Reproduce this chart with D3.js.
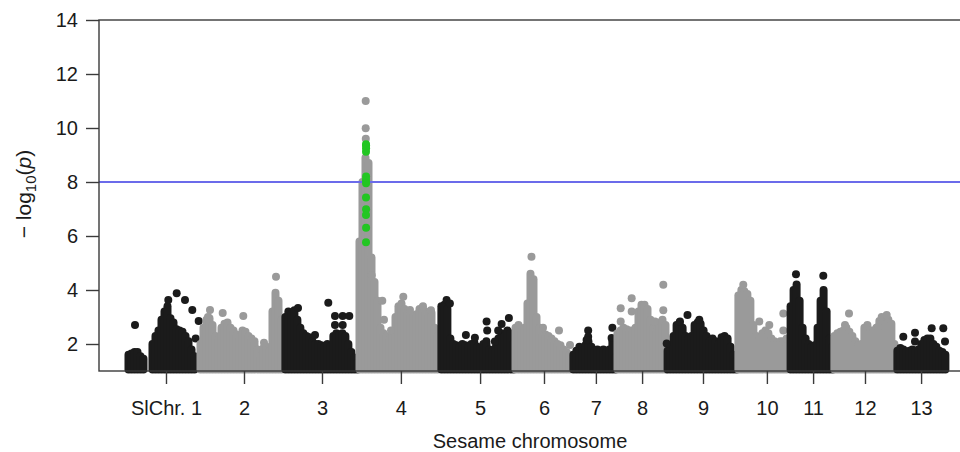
<!DOCTYPE html>
<html>
<head>
<meta charset="utf-8">
<script src="https://cdn.jsdelivr.net/npm/d3@7"></script>
<style>
  body { margin: 0; background: #fff; }
  text { font-family: "Liberation Sans", Arial, sans-serif; fill: #1a1a1a; }
</style>
</head>
<body>
<div id="chart"></div>
<script>
// chromosome names, lengths (Mb) and tick positions (Mb, genome-wide)
var chrNames = ["SlChr. 1", "2", "3", "4", "5", "6", "7", "8", "9", "10", "11", "12", "13"];
var chrLen = [24, 28.3, 24.7, 27.3, 24.7, 19.3, 14.7, 16.7, 23.6, 17.4, 14.6, 21, 17.4];
var tickPos = [13, 39, 65, 91.3, 117.7, 139, 156.3, 171.7, 192, 213.3, 228.7, 246, 264.7];

// upper edge of the dense -log10(p) cloud, one value per 1 Mb bin (0 = no SNPs)
var env1 = [1.6, 1.65, 1.7, 1.7, 1.55, 1.45, 0, 0, 2.0, 2.3, 2.5, 2.9, 3.2, 3.4, 2.95, 2.8, 2.55, 2.5, 2.45, 2.3, 2.1, 1.8, 1.55, 0];
var env2 = [2.0, 2.6, 2.9, 2.95, 2.7, 2.3, 2.2, 2.6, 2.75, 2.8, 2.6, 2.5, 2.35, 2.25, 2.5, 2.45, 2.3, 2.2, 2.1, 1.8, 1.55, 1.85, 1.9, 1.75, 3.2, 3.9, 3.6, 2.9];
var env3 = [3.0, 3.2, 3.1, 3.25, 2.9, 2.6, 2.4, 2.3, 2.25, 2.1, 2.0, 2.0, 1.95, 1.9, 2.0, 1.9, 2.3, 2.4, 2.35, 2.4, 2.3, 2.0, 1.7, 1.5, 1.3];
var env4 = [5.8, 8.0, 8.9, 8.7, 5.2, 4.3, 3.6, 2.6, 2.4, 2.3, 2.2, 2.3, 3.0, 3.4, 3.5, 3.3, 3.2, 3.1, 3.05, 3.1, 3.3, 3.35, 3.2, 3.1, 3.15, 2.6, 2.3];
var env5 = [3.4, 3.45, 3.3, 2.2, 2.0, 1.95, 1.9, 2.0, 1.95, 1.9, 2.0, 2.05, 1.9, 1.85, 2.0, 2.1, 1.8, 1.75, 1.85, 2.2, 2.4, 2.3, 2.5, 2.4, 2.0];
var env6 = [2.6, 2.7, 2.5, 2.6, 3.5, 4.6, 4.4, 3.0, 2.6, 2.4, 2.35, 2.3, 2.2, 2.1, 2.0, 1.95, 1.8, 1.7, 1.6];
var env7 = [1.6, 1.75, 1.9, 1.85, 1.95, 2.1, 1.9, 1.75, 1.8, 1.75, 1.8, 1.7, 1.8, 2.1, 1.5];
var env8 = [2.4, 2.5, 2.6, 2.55, 2.5, 2.5, 2.6, 3.2, 3.45, 3.45, 3.3, 2.9, 2.6, 2.5, 2.8, 2.9, 2.7];
var env9 = [1.75, 1.8, 2.3, 2.7, 2.8, 2.6, 2.3, 2.2, 2.3, 2.7, 2.8, 2.75, 2.5, 2.3, 2.1, 2.2, 2.1, 2.0, 2.25, 2.3, 2.2, 1.9, 1.6, 1.4];
var env10 = [3.8, 4.0, 3.95, 3.85, 3.6, 2.7, 2.3, 2.2, 2.4, 2.5, 2.4, 2.2, 2.1, 2.0, 2.1, 2.1, 1.9];
var env11 = [3.4, 4.0, 4.2, 3.6, 2.6, 2.2, 2.0, 1.9, 1.95, 2.6, 3.6, 4.0, 3.2, 2.2, 1.9];
var env12 = [2.3, 2.4, 2.45, 2.5, 2.6, 2.45, 2.3, 2.1, 1.95, 2.0, 2.6, 2.7, 2.5, 2.5, 2.6, 2.85, 2.9, 2.95, 2.9, 2.75, 2.0];
var env13 = [1.75, 1.85, 1.8, 1.7, 1.75, 1.8, 1.75, 1.8, 2.0, 2.15, 2.2, 2.2, 2.0, 1.9, 1.75, 1.7, 1.6];

// single SNPs standing above the cloud: [position in chromosome (Mb), -log10(p)]
var pts1 = [[2.67, 2.7], [13.77, 3.63], [16.57, 3.88], [19.33, 3.63], [21.77, 3.26], [23.9, 2.85], [22.9, 2.2]];
var pts2 = [[3.67, 3.26], [3.0, 3.0], [7.9, 3.15], [14.77, 3.04], [25.67, 4.49], [21.67, 2.05]];
var pts3 = [[4.7, 3.33], [14.8, 3.53], [17.03, 3.04], [19.6, 3.04], [21.8, 3.04], [17.03, 2.7], [19.6, 2.7], [10.37, 2.33]];
var pts4 = [[2.57, 11.0], [2.57, 9.99], [2.6, 9.6], [4.57, 4.55], [8.1, 3.6], [8.67, 2.9], [11.0, 2.5], [15.1, 3.75], [17.33, 3.26], [21.67, 3.4], [24.33, 3.25]];
var pts5 = [[2.23, 3.63], [3.33, 3.5], [8.67, 2.33], [11.67, 2.23], [15.57, 2.83], [15.77, 2.5], [19.43, 2.5], [20.57, 2.74], [23.0, 2.96], [18.33, 2.09]];
var pts6 = [[5.83, 5.23], [9.67, 2.6], [15.0, 2.5], [18.67, 1.96]];
var pts7 = [[5.43, 2.5], [5.43, 2.27], [4.9, 2.15], [13.5, 2.6], [13.23, 2.22]];
var pts8 = [[1.57, 3.32], [1.57, 2.83], [5.23, 3.69], [5.23, 3.2], [13.0, 2.83], [15.77, 4.19], [15.77, 3.25]];
var pts9 = [[0.2, 2.02], [7.13, 3.07], [4.63, 2.83], [11.07, 2.9]];
var pts10 = [[2.13, 4.19], [7.47, 2.83], [10.8, 2.7], [15.47, 3.13], [15.47, 2.5], [16.6, 2.2]];
var pts11 = [[2.3, 4.58], [11.4, 4.53]];
var pts12 = [[4.03, 2.7], [5.37, 3.13], [16.27, 3.0], [17.93, 3.07], [15.03, 2.63]];
var pts13 = [[2.47, 2.27], [6.37, 2.42], [6.37, 2.09], [11.93, 2.58], [15.8, 2.58], [16.37, 2.09]];

// highlighted SNPs on chromosome 4
var hitChr = 3;
var hitPos = [2.67, 2.7, 2.67, 2.7, 2.67, 2.7, 2.67, 2.7, 2.67, 2.7, 2.67, 2.7];
var hitVals = [9.4, 9.25, 9.12, 8.2, 8.07, 7.95, 7.43, 6.99, 6.78, 6.31, 5.77, 9.35];

var threshold = 8;
var yTicks = [2, 4, 6, 8, 10, 12, 14];

var envs = [env1, env2, env3, env4, env5, env6, env7, env8, env9, env10, env11, env12, env13];
var ptsAll = [pts1, pts2, pts3, pts4, pts5, pts6, pts7, pts8, pts9, pts10, pts11, pts12, pts13];

var width = 960, height = 452;
var black = "#1b1b1b", gray = "#9a9a9a";

var svg = d3.select("#chart").append("svg")
    .attr("width", width)
    .attr("height", height);

var x = d3.scaleLinear().domain([-9.33, 277.67]).range([99, 960]);
var y = d3.scaleLinear().domain([1, 14]).range([371, 20]);

var starts = [];
var acc = 0;
for (var c = 0; c < chrLen.length; c++) {
  starts.push(acc);
  acc += chrLen[c];
}

var plot = svg.append("g");

function drawChr(c) {
  var colour = (c % 2 == 0) ? black : gray;
  var g = plot.append("g").attr("class", "chr" + (c + 1));
  var cols = envs[c].map(function(v, i) { return {pos: starts[c] + i + 0.5, v: v}; })
      .filter(function(d) { return d.v > 1; });

  g.selectAll("line")
      .data(cols)
    .enter().append("line")
      .attr("x1", function(d) { return x(d.pos); })
      .attr("x2", function(d) { return x(d.pos); })
      .attr("y1", y(1.06))
      .attr("y2", function(d) { return y(d.v); })
      .attr("stroke", colour)
      .attr("stroke-width", 8)
      .attr("stroke-linecap", "round");

  g.selectAll("circle")
      .data(ptsAll[c])
    .enter().append("circle")
      .attr("cx", function(d) { return x(starts[c] + d[0]); })
      .attr("cy", function(d) { return y(d[1]); })
      .attr("r", 4)
      .attr("fill", colour);
}

for (var c = 0; c < chrLen.length; c++) drawChr(c);

// genome-wide threshold
svg.append("line")
    .attr("x1", x.range()[0]).attr("x2", 962)
    .attr("y1", y(threshold)).attr("y2", y(threshold))
    .attr("stroke", "#6b6bea")
    .attr("stroke-width", 1.8);

// green significant SNPs
svg.append("g").selectAll("circle")
    .data(hitVals)
  .enter().append("circle")
    .attr("cx", function(d, i) { return x(starts[hitChr] + hitPos[i]); })
    .attr("cy", function(d) { return y(d); })
    .attr("r", 4)
    .attr("fill", "#22c622");

// frame
svg.append("rect")
    .attr("x", 99).attr("y", 20)
    .attr("width", 870).attr("height", 351)
    .attr("fill", "none")
    .attr("stroke", "#3a3a3a")
    .attr("stroke-width", 1.4);

var yAxis = svg.append("g")
    .attr("transform", "translate(99,0)")
    .call(d3.axisLeft(y).tickValues(yTicks).tickSize(13).tickPadding(8));
yAxis.select(".domain").remove();
yAxis.selectAll("line").attr("stroke", "#3a3a3a").attr("stroke-width", 1.4);
yAxis.selectAll("text").style("font-size", "20px").attr("fill", "#1a1a1a");

var xAxis = svg.append("g")
    .attr("transform", "translate(0,371)")
    .call(d3.axisBottom(x).tickValues(tickPos)
      .tickFormat(function(d, i) { return chrNames[i]; })
      .tickSize(13).tickPadding(17));
xAxis.select(".domain").remove();
xAxis.selectAll("line").attr("stroke", "#3a3a3a").attr("stroke-width", 1.4);
xAxis.selectAll("text").style("font-size", "20px").attr("fill", "#1a1a1a");

svg.append("text")
    .attr("x", 530).attr("y", 448)
    .attr("text-anchor", "middle")
    .style("font-size", "20px")
    .text("Sesame chromosome");

var ylab = svg.append("text")
    .attr("transform", "translate(31,194) rotate(-90)")
    .attr("text-anchor", "middle")
    .style("font-size", "21px");
ylab.append("tspan").text("\u2212 log");
ylab.append("tspan").attr("dy", 5).style("font-size", "15px").text("10");
ylab.append("tspan").attr("dy", -5).text("(");
ylab.append("tspan").style("font-style", "italic").text("p");
ylab.append("tspan").text(")");
</script>
</body>
</html>
